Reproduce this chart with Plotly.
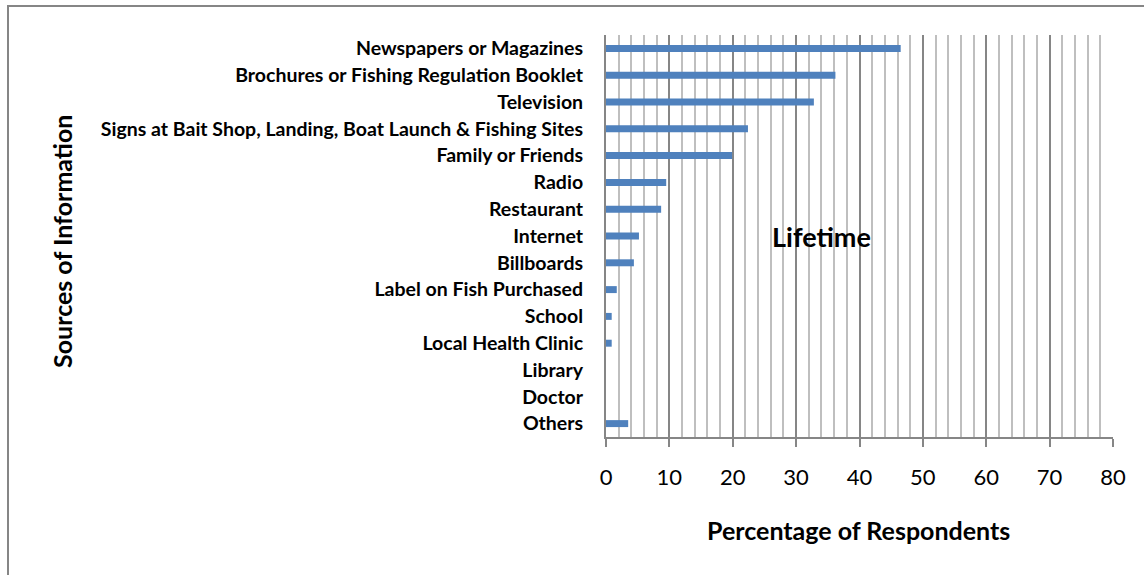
import plotly.graph_objects as go

# sources, listed top to bottom as in the chart
sources = [
    "Newspapers or Magazines",
    "Brochures or Fishing Regulation Booklet",
    "Television",
    "Signs at Bait Shop, Landing, Boat Launch & Fishing Sites",
    "Family or Friends",
    "Radio",
    "Restaurant",
    "Internet",
    "Billboards",
    "Label on Fish Purchased",
    "School",
    "Local Health Clinic",
    "Library",
    "Doctor",
    "Others",
]
lifetime_pct = [46.5, 36.2, 32.8, 22.4, 19.9, 9.5, 8.7, 5.2, 4.4, 1.7, 0.9, 0.9, 0, 0, 3.5]

x_ticks = [0, 10, 20, 30, 40, 50, 60, 70, 80]

GRAY = "#868686"

fig = go.Figure(go.Bar(
    x=lifetime_pct,
    y=sources,
    orientation="h",
    width=0.26,
    marker=dict(color="#4F81BD", line=dict(width=0)),
))

fig.update_layout(
    width=1144, height=575,
    margin=dict(l=606, r=31, t=35, b=138),
    paper_bgcolor="white", plot_bgcolor="white",
    showlegend=False,
    font=dict(family="Lato", color="black"),
)

fig.update_xaxes(
    range=[0, 80], tickvals=x_ticks,
    showgrid=True, gridcolor=GRAY, gridwidth=2,
    minor=dict(dtick=2, showgrid=True, gridcolor="#BFBFBF", gridwidth=2),
    showline=True, linecolor=GRAY, linewidth=2,
    ticks="outside", ticklen=8, tickwidth=2, tickcolor=GRAY,
    tickfont=dict(size=22, family="Lato"),
    ticklabelstandoff=12,
    zeroline=False, fixedrange=True,
)
fig.update_yaxes(
    autorange="reversed",
    showgrid=False, zeroline=False,
    showline=True, linecolor=GRAY, linewidth=2,
    ticks="", ticklabelstandoff=17,
    tickfont=dict(size=19.5, family="Lato", weight="bold"),
)

fig.add_annotation(text="<b>Lifetime</b>", xref="paper", yref="paper",
                   x=0.426, y=0.5, xanchor="center", yanchor="middle",
                   showarrow=False, font=dict(size=27, family="Lato"))
fig.add_annotation(text="<b>Percentage of Respondents</b>", xref="paper", yref="paper",
                   x=0.499, y=-0.231, xanchor="center", yanchor="middle",
                   showarrow=False, font=dict(size=25, family="Lato"))
fig.add_annotation(text="<b>Sources of Information</b>", xref="paper", yref="paper",
                   x=-1.073, y=0.4876, xanchor="center", yanchor="middle",
                   textangle=-90, showarrow=False,
                   font=dict(size=25, family="Lato"))

# outer chart border (top and left edges; the rest runs out of view)
border_js = (
    "document.body.style.margin='0';"
    "document.body.style.overflow='hidden';"
    "var b=document.createElement('div');"
    "b.style.cssText='position:absolute;left:7px;top:5px;width:1200px;height:700px;"
    "border-left:2px solid #868686;border-top:2px solid #868686;"
    "pointer-events:none;z-index:10;';"
    "document.body.appendChild(b);"
)

fig.write_html("out.html", config={"displayModeBar": False}, post_script=border_js)
